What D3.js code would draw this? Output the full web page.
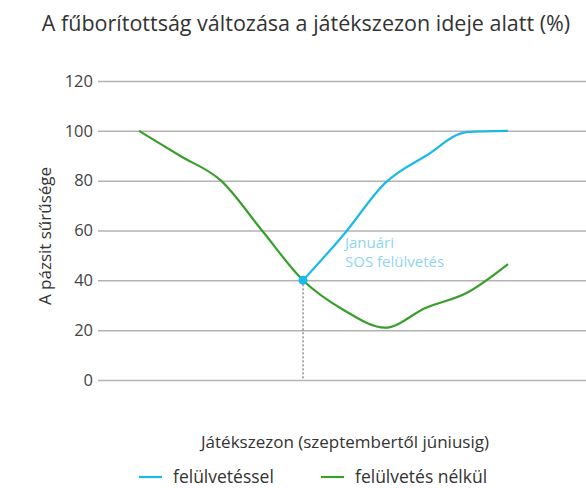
<!DOCTYPE html>
<html>
<head>
<meta charset="utf-8">
<script src="https://cdn.jsdelivr.net/npm/d3@7"></script>
<style>
  body { margin: 0; background: #fff; }
  text { font-family: "Open Sans", "Noto Sans", sans-serif; }
</style>
</head>
<body>
<div id="chart"></div>
<script>
// months of the season, Sep .. Jun
var months = ["szept", "okt", "nov", "dec", "jan", "febr", "márc", "ápr", "máj", "jún"];
var withoutOverseed = [100, 90, 80, 60, 40, 28, 21, 29, 35, 46.5];
var withOverseed = [null, null, null, null, 40, 58.5, 79, 90, 99.5, 100];
var yTicks = [0, 20, 40, 60, 80, 100, 120];
var overseedMonth = 4;

var w = 586, h = 488;

var svg = d3.select("#chart").append("svg")
    .attr("width", w)
    .attr("height", h);

var x = d3.scaleLinear().domain([0, months.length - 1]).range([139, 508]);
var y = d3.scaleLinear().domain([0, 120]).range([380, 81]);

// title
svg.append("text")
    .attr("x", 306).attr("y", 31)
    .attr("text-anchor", "middle")
    .attr("font-size", 21.5)
    .attr("fill", "#333")
    .text("A fűborítottság változása a játékszezon ideje alatt (%)");

// grid + y ticks
var yAxis = d3.axisLeft(y).tickValues(yTicks).tickSize(-(w - 98)).tickPadding(5);
var gy = svg.append("g").attr("transform", "translate(98,0)").call(yAxis);
gy.select(".domain").remove();
gy.selectAll(".tick line").attr("stroke", "#b3b3b3").attr("stroke-width", 1.5);
gy.selectAll(".tick text")
    .attr("font-family", "'Open Sans', 'Noto Sans', sans-serif")
    .attr("font-size", 16.5)
    .attr("fill", "#444");

// y label
svg.append("text")
    .attr("transform", "translate(51,236) rotate(-90)")
    .attr("text-anchor", "middle")
    .attr("font-size", 17)
    .attr("fill", "#333")
    .text("A pázsit sűrűsége");

// dotted drop line at January
svg.append("line")
    .attr("x1", x(overseedMonth)).attr("x2", x(overseedMonth))
    .attr("y1", y(withoutOverseed[overseedMonth])).attr("y2", y(0))
    .attr("stroke", "#555")
    .attr("stroke-width", 1)
    .attr("stroke-dasharray", "2,2");

var line = d3.line()
    .defined(function(d) { return d != null; })
    .x(function(d, i) { return x(i); })
    .y(function(d) { return y(d); })
    .curve(d3.curveMonotoneX);

svg.append("path")
    .datum(withoutOverseed)
    .attr("d", line)
    .attr("fill", "none")
    .attr("stroke", "#3a9e2e")
    .attr("stroke-width", 2.2);

svg.append("path")
    .datum(withOverseed)
    .attr("d", line)
    .attr("fill", "none")
    .attr("stroke", "#1cb8ea")
    .attr("stroke-width", 2.2);

svg.append("circle")
    .attr("cx", x(overseedMonth))
    .attr("cy", y(withOverseed[overseedMonth]))
    .attr("r", 4.5)
    .attr("fill", "#1cb8ea");

// annotation
var note = svg.append("text")
    .attr("x", 345).attr("y", 248)
    .attr("font-size", 15)
    .attr("fill", "#8fd4f2");
note.append("tspan").attr("x", 345).attr("dy", 0).text("Januári");
note.append("tspan").attr("x", 345).attr("dy", 19).text("SOS felülvetés");

// x label
svg.append("text")
    .attr("x", 345).attr("y", 448)
    .attr("text-anchor", "middle")
    .attr("font-size", 17)
    .attr("fill", "#333")
    .text("Játékszezon (szeptembertől júniusig)");

// legend
var legend = [
  { name: "felülvetéssel", color: "#1cb8ea", x: 139 },
  { name: "felülvetés nélkül", color: "#3a9e2e", x: 321 }
];
var lg = svg.selectAll(".lg").data(legend).enter().append("g")
    .attr("transform", function(d) { return "translate(" + d.x + ",477)"; });
lg.append("line")
    .attr("x1", 0).attr("x2", 23)
    .attr("stroke", function(d) { return d.color; })
    .attr("stroke-width", 2.2);
lg.append("text")
    .attr("x", 34).attr("y", 6)
    .attr("font-size", 17.5)
    .attr("fill", "#333")
    .text(function(d) { return d.name; });
</script>
</body>
</html>
